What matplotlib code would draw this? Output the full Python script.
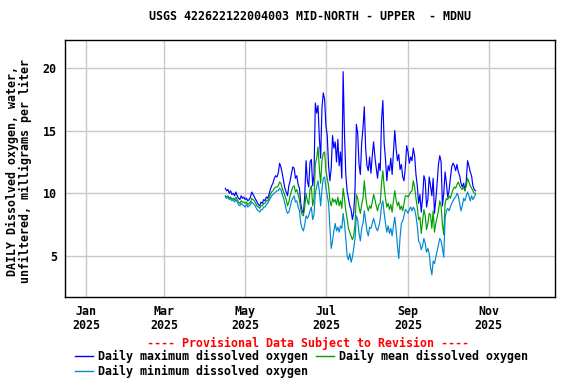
"""USGS daily dissolved oxygen chart, station 422622122004003 (MDNU)."""

import matplotlib

matplotlib.use("Agg")

import matplotlib.dates as mdates
import matplotlib.pyplot as plt
import pandas as pd
from matplotlib.lines import Line2D

TITLE = "USGS 422622122004003 MID-NORTH - UPPER  - MDNU"
YLABEL = "DAILY Dissolved oxygen, water,\nunfiltered, milligrams per liter"
PROVISIONAL = "---- Provisional Data Subject to Revision ----"

START_DATE = "2025-04-16"

# daily values, mg/L
do_max = [
    10.4, 10.2, 10.3, 10.0, 10.2, 9.9, 10.0, 9.8, 10.1, 9.8,
    9.6, 9.5, 9.8, 9.6, 9.7, 9.5, 9.6, 9.4, 9.5, 9.7,
    10.1, 9.9, 9.7, 9.5, 9.3, 9.1, 9.0, 9.3, 9.2, 9.5,
    9.4, 9.7, 9.6, 9.9, 10.3, 10.6, 10.8, 11.2, 11.4, 11.3,
    11.6, 12.4, 12.1, 11.6, 11.0, 10.4, 10.1, 9.8, 10.6, 11.0,
    11.6, 12.1, 12.0, 11.2, 11.4, 10.7, 10.4, 9.2, 8.6, 8.4,
    9.8, 12.6, 11.0, 10.5, 12.5, 12.7, 10.6, 11.5, 17.2, 16.4,
    17.0, 14.5, 12.8, 16.8, 18.0, 17.5, 15.4, 14.6, 12.2, 11.0,
    12.0, 14.6, 13.6, 14.1, 12.5, 14.3, 12.2, 13.3, 11.2, 19.7,
    14.8, 11.5, 10.2, 9.6, 9.0, 8.7, 7.9, 8.5, 10.3, 15.5,
    14.8, 12.3, 11.5, 14.0, 15.2, 16.9, 13.6, 12.2, 11.8, 12.9,
    11.6, 13.0, 14.1, 12.9, 12.0, 11.2, 12.4, 11.8, 15.8, 17.4,
    14.0, 12.7, 11.0, 12.2, 11.8, 12.8, 11.5, 13.2, 15.0, 13.6,
    12.6, 13.1, 11.9, 12.3, 11.3, 11.0, 12.1, 13.8, 13.3, 12.4,
    12.9, 12.6, 13.6, 13.0, 11.5, 10.6, 9.2, 9.9, 8.5, 9.6,
    11.4, 11.0, 8.9, 9.5, 11.3, 10.6, 9.8, 11.2, 8.4, 9.5,
    10.8, 12.3, 13.0, 12.5, 9.0, 10.0, 11.7, 10.8, 9.7, 10.2,
    11.2, 12.1, 12.4, 12.2, 11.8, 12.3, 11.7, 11.4, 10.8, 10.5,
    10.8, 10.2, 11.0, 12.6, 12.2, 11.7, 11.4, 10.6, 10.3, 10.2,
]

do_mean = [
    9.8, 9.7, 9.8, 9.6, 9.7, 9.5, 9.6, 9.5, 9.7, 9.5,
    9.3, 9.2, 9.4, 9.3, 9.3, 9.2, 9.3, 9.1, 9.2, 9.3,
    9.6, 9.5, 9.4, 9.2, 9.0, 8.9, 8.8, 9.0, 9.0, 9.2,
    9.2, 9.4, 9.4, 9.6, 9.9, 10.1, 10.2, 10.4, 10.5, 10.5,
    10.6, 10.9, 10.8, 10.4, 10.1, 9.8, 9.5, 9.0, 9.3, 9.8,
    10.2, 10.5, 10.6, 10.1, 10.3, 9.9, 9.5, 8.7, 8.3, 8.2,
    8.9, 10.0, 9.4, 9.1, 10.3, 10.6, 9.0, 9.6, 12.3, 12.8,
    13.7, 12.0, 10.8, 12.6, 13.2, 13.3, 11.8, 11.2, 10.6, 9.4,
    9.0, 9.6, 9.3, 9.5, 9.1, 9.7, 9.0, 9.4, 8.8, 10.4,
    9.6, 8.6, 8.0, 7.2, 6.9, 6.6, 6.3, 6.6, 7.6, 9.9,
    9.6, 8.9, 8.4, 9.1, 9.6, 11.0, 9.8, 9.0, 8.6, 9.0,
    8.8, 9.3, 9.9, 9.5, 9.0, 8.6, 9.1, 9.2, 10.8, 11.8,
    10.5, 9.6, 8.9, 9.2, 8.7, 9.1, 8.5, 9.4, 10.2, 9.5,
    9.0, 9.3, 8.7, 9.0, 8.6, 9.2, 9.8, 9.8, 9.7, 9.9,
    10.1, 10.2, 11.0, 10.5, 9.6, 8.9, 7.9, 8.1, 6.8, 7.8,
    8.7, 8.2, 7.1, 7.6, 8.4, 8.3, 7.2, 8.6, 6.9, 7.6,
    8.1, 8.6, 9.4, 9.0, 7.5, 6.7, 9.2, 9.6, 9.5, 9.8,
    9.6, 10.0, 10.3, 10.5, 10.4, 10.7, 10.9, 10.6, 10.4, 10.3,
    10.5, 10.2, 10.6, 11.2, 10.9, 10.6, 10.4, 10.2, 10.0, 10.0,
]

do_min = [
    9.7, 9.6, 9.7, 9.5, 9.6, 9.4, 9.5, 9.3, 9.5, 9.3,
    9.1, 9.0, 9.2, 9.1, 9.0, 8.9, 9.1, 8.9, 9.0, 9.1,
    9.3, 9.2, 9.1, 8.9, 8.7, 8.6, 8.5, 8.7, 8.7, 8.9,
    8.9, 9.1, 9.2, 9.4, 9.6, 9.8, 9.9, 10.0, 10.1, 10.2,
    10.2, 10.4, 10.3, 9.9, 9.6, 9.2, 8.7, 8.4, 8.5, 8.9,
    9.4, 9.6, 9.8, 9.3, 9.4, 8.9, 8.6, 7.6, 7.2, 7.0,
    7.5, 8.2, 8.0, 8.2, 8.6, 8.9, 7.9, 8.3, 10.0, 10.5,
    11.0, 10.2, 9.0, 10.3, 11.2, 11.3, 10.4, 9.8, 9.2, 7.3,
    5.6, 6.2, 7.0, 7.6, 7.0, 7.3, 6.9, 7.4, 7.2, 8.4,
    7.6, 6.4, 5.0, 4.7, 5.2, 4.5, 4.9, 5.6, 6.4, 8.2,
    7.9, 6.8, 6.2, 7.2, 7.6, 8.6, 7.8, 7.0, 6.6, 7.3,
    7.2, 7.6, 8.0, 7.6, 7.2, 7.0, 7.4, 7.9, 9.0, 9.4,
    8.4, 7.6, 6.9, 7.4, 6.8, 7.2, 6.6, 7.4, 8.1, 7.1,
    5.8, 4.8, 6.5, 7.6, 7.8, 8.2, 8.7, 8.6, 8.4, 8.7,
    8.9, 8.6, 8.9, 8.7, 8.2, 7.4, 6.2, 6.0, 5.5, 5.8,
    6.4, 6.0, 5.3, 5.6, 5.2, 4.1, 3.5, 4.6, 4.4, 4.9,
    5.4, 5.9, 6.4, 6.2, 5.6, 4.9, 8.0, 8.6, 8.8, 8.6,
    8.9, 9.2, 9.4, 9.6, 9.7, 10.0, 9.8, 9.2, 8.6, 9.0,
    9.6, 9.4, 9.8, 10.1, 9.8, 9.4, 9.8, 9.5, 9.7, 9.9,
]

SERIES = [
    ("Daily maximum dissolved oxygen", do_max, "#0000ff"),
    ("Daily mean dissolved oxygen", do_mean, "#00a000"),
    ("Daily minimum dissolved oxygen", do_min, "#0088d0"),
]

FONT = "DejaVu Sans Mono"
FS = 8.4

dates = pd.date_range(START_DATE, periods=len(do_max), freq="D")

fig = plt.figure(figsize=(5.76, 3.84), dpi=100)
ax = fig.add_axes([0.113, 0.2266, 0.8505, 0.6694])

handles = {}
for label, values, color in SERIES:
    ax.plot(dates, values, color=color, linewidth=0.85, zorder=3)
    handles[label] = Line2D([], [], color=color, linewidth=1.0, label=label)

ax.set_xlim(pd.Timestamp("2024-12-16"), pd.Timestamp("2025-12-21"))
ax.set_ylim(1.73, 22.23)
ax.set_yticks([5, 10, 15, 20])
ax.xaxis.set_major_locator(mdates.MonthLocator(bymonth=[1, 3, 5, 7, 9, 11]))
ax.xaxis.set_major_formatter(mdates.DateFormatter("%b\n%Y"))

ax.grid(True, color="#c8c8c8", linewidth=1.0, zorder=0)
ax.set_axisbelow(True)
for spine in ax.spines.values():
    spine.set_linewidth(1.0)
    spine.set_color("black")
ax.tick_params(axis="both", length=0)
ax.tick_params(axis="y", pad=6)
ax.tick_params(axis="x", pad=6)
for lbl in ax.get_xticklabels() + ax.get_yticklabels():
    lbl.set_fontfamily(FONT)
    lbl.set_fontweight("bold")
    lbl.set_fontsize(FS)
for lbl in ax.get_xticklabels():
    lbl.set_linespacing(1.1)

ax.set_ylabel(YLABEL, family=FONT, fontweight="bold", fontsize=FS, linespacing=0.95)
ax.yaxis.label.set_verticalalignment("center")
ax.yaxis.set_label_coords(-0.094, 0.49)
ax.set_title(TITLE, family=FONT, fontweight="bold", fontsize=FS, pad=14)

fig.text(0.5347, 0.1068, PROVISIONAL, color="red", family=FONT, fontweight="bold",
         fontsize=FS, ha="center", va="center")

order = [SERIES[0][0], SERIES[2][0], SERIES[1][0]]
fig.legend(
    handles=[handles[k] for k in order],
    loc="upper left",
    bbox_to_anchor=(0.1302, 0.0895),
    ncol=2,
    frameon=False,
    prop={"family": FONT, "size": FS, "weight": "bold"},
    handlelength=1.55,
    handletextpad=0.43,
    columnspacing=0.7,
    labelspacing=0.2,
    borderaxespad=0,
    borderpad=0,
)

fig.savefig("out.png", dpi=100)
